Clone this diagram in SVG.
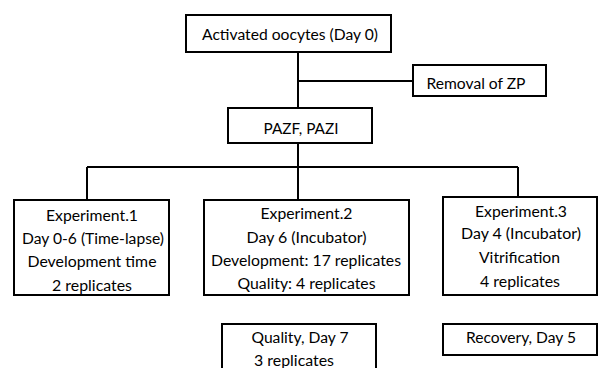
<svg xmlns="http://www.w3.org/2000/svg" width="602" height="368" viewBox="0 0 602 368">
<style>
.box{fill:#fff;stroke:#000;stroke-width:2}
.ln{fill:none;stroke:#000;stroke-width:2}
.t{font-family:Lato,"Liberation Sans",sans-serif;font-size:15.5px;text-anchor:middle;fill:#000}
</style>
<rect x="0" y="0" width="602" height="368" fill="#fff"/>
<g id="connectors">
<path class="ln" d="M298 52V108M298 81H413M298 143V167M87 167H518M87 167V200M298 167V200M518 167V197"/>
</g>
<g id="activated">
<rect class="box" x="186" y="15" width="205" height="37"/>
<text class="t" x="290" y="39.5" textLength="176" lengthAdjust="spacingAndGlyphs">Activated oocytes (Day 0)</text>
</g>
<g id="removal">
<rect class="box" x="413" y="65" width="133" height="31"/>
<text class="t" x="476" y="88.5" textLength="99" lengthAdjust="spacingAndGlyphs">Removal of ZP</text>
</g>
<g id="pazf">
<rect class="box" x="228" y="108" width="144" height="35"/>
<text class="t" x="301" y="133.5" textLength="75" lengthAdjust="spacingAndGlyphs">PAZF, PAZI</text>
</g>
<g id="exp1">
<rect class="box" x="14" y="200" width="155" height="95"/>
<text class="t" x="92" y="220.5" textLength="92" lengthAdjust="spacingAndGlyphs">Experiment.1</text>
<text class="t" x="93" y="243.5" textLength="142" lengthAdjust="spacingAndGlyphs">Day 0-6 (Time-lapse)</text>
<text class="t" x="92" y="267" textLength="129" lengthAdjust="spacingAndGlyphs">Development time</text>
<text class="t" x="92" y="291" textLength="80" lengthAdjust="spacingAndGlyphs">2 replicates</text>
</g>
<g id="exp2">
<rect class="box" x="204" y="200" width="205" height="95"/>
<text class="t" x="306.5" y="218.5" textLength="92" lengthAdjust="spacingAndGlyphs">Experiment.2</text>
<text class="t" x="306.5" y="242.5" textLength="120" lengthAdjust="spacingAndGlyphs">Day 6 (Incubator)</text>
<text class="t" x="306" y="266" textLength="190" lengthAdjust="spacingAndGlyphs">Development: 17 replicates</text>
<text class="t" x="306.5" y="289" textLength="138" lengthAdjust="spacingAndGlyphs">Quality: 4 replicates</text>
</g>
<g id="exp3">
<rect class="box" x="443" y="197" width="154" height="98"/>
<text class="t" x="521" y="216.5" textLength="92" lengthAdjust="spacingAndGlyphs">Experiment.3</text>
<text class="t" x="521" y="239" textLength="120" lengthAdjust="spacingAndGlyphs">Day 4 (Incubator)</text>
<text class="t" x="519.5" y="263" textLength="81" lengthAdjust="spacingAndGlyphs">Vitrification</text>
<text class="t" x="520" y="287" textLength="80" lengthAdjust="spacingAndGlyphs">4 replicates</text>
</g>
<g id="quality">
<rect class="box" x="222" y="324" width="154" height="50"/>
<text class="t" x="300" y="342.5" textLength="97" lengthAdjust="spacingAndGlyphs">Quality, Day 7</text>
<text class="t" x="294" y="365.5" textLength="80" lengthAdjust="spacingAndGlyphs">3 replicates</text>
</g>
<g id="recovery">
<rect class="box" x="443" y="324" width="154" height="31"/>
<text class="t" x="521" y="342.5" textLength="110" lengthAdjust="spacingAndGlyphs">Recovery, Day 5</text>
</g>
</svg>
